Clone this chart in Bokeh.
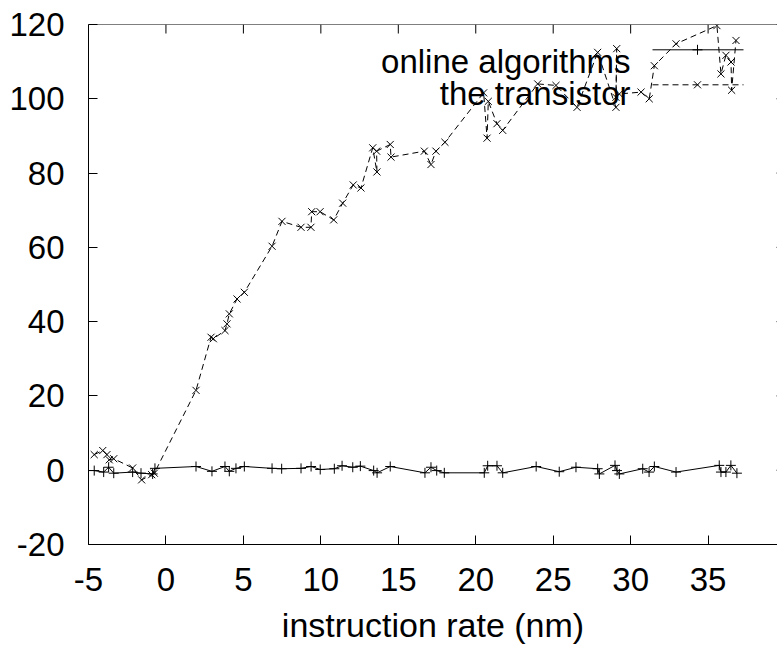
from bokeh.plotting import figure
from bokeh.models import Range1d, SingleIntervalTicker, Label, Span, PrintfTickFormatter
from bokeh.embed import file_html
from bokeh.resources import INLINE

# ---------------- data ----------------
online_x = [-4.63, -4.02, -3.7, -3.37, -2.15, -1.61, -0.86, -0.71, 1.94, 2.97,
            3.81, 4.09, 4.52, 5.06, 6.85, 7.47, 8.72, 9.37, 9.96, 10.87,
            11.37, 12.06, 12.55, 13.41, 13.63, 14.48, 16.72, 17.11, 17.48, 17.97,
            20.55, 20.77, 21.37, 21.74, 23.9, 25.39, 26.47, 27.87, 27.98, 28.99,
            29.12, 29.27, 30.78, 31.19, 31.53, 32.93, 35.72, 35.83, 36.15, 36.47,
            36.86]
online_y = [-0.1, -0.5, 0.8, -0.8, -0.5, -0.8, -1.0, 0.5, 1.0, -0.3,
            1.0, -0.3, 0.5, 1.0, 0.5, 0.4, 0.5, 1.0, 0.2, 0.4,
            1.2, 0.8, 1.1, -0.1, -0.7, 1.0, -0.7, 0.8, -0.1, -0.7,
            -0.7, 1.2, 1.2, -0.7, 1.0, -0.4, 0.8, 0.4, -1.0, 1.3,
            -0.1, -1.0, 0.4, -0.5, 1.0, -0.5, 1.3, -0.5, -0.5, 1.3,
            -0.8]

trans_x = [-4.63, -4.08, -3.81, -3.66, -3.37, -2.15, -1.57, -0.92, -0.75, 1.94,
           2.91, 3.06, 3.81, 3.94, 4.09, 4.59, 5.06, 6.85, 7.49, 8.72,
           9.36, 9.41, 9.95, 10.83, 11.41, 12.09, 12.59, 13.35, 13.62, 13.6,
           14.48, 14.53, 16.68, 17.11, 17.43, 18.01, 20.51, 20.73, 20.81, 21.37,
           21.74, 24.0, 25.18, 26.54, 27.87, 29.05, 29.1, 29.05, 29.27, 30.67,
           31.2, 31.53, 32.93, 35.57, 35.83, 36.15, 36.48, 36.52, 36.8]
trans_y = [4.2, 5.3, 4.2, 2.8, 3.1, 0.6, -2.6, -1.2, -0.8, 21.5,
           35.8, 35.4, 37.6, 39.4, 42.1, 46.1, 47.9, 60.3, 67.0, 65.4,
           65.4, 69.6, 69.6, 67.4, 71.9, 76.8, 76.0, 86.8, 80.3, 85.9,
           87.7, 84.3, 85.9, 82.3, 85.9, 88.3, 101.6, 89.4, 99.3, 93.3,
           91.5, 104.0, 103.6, 97.7, 112.5, 97.7, 113.5, 100.4, 101.3, 101.8,
           100.0, 108.9, 114.8, 119.7, 106.7, 111.7, 109.9, 102.3, 115.7]

series_names = ["online algorithms", "the transistor"]
x_label = "instruction rate (nm)"
x_ticks = [-5, 0, 5, 10, 15, 20, 25, 30, 35, 40]
y_ticks = [-20, 0, 20, 40, 60, 80, 100, 120]

# ---------------- layout ----------------
W, H = 777, 646
FL, FT, FB = 88, 24, 102
FW = W - FL
FH = H - FT - FB
X_START, X_AXIS_END = -5, 40          # gnuplot's full axis (right part is cut off)
PX_PER_X = 15.49
X_END = X_START + FW / PX_PER_X       # what fits in the window
Y_START, Y_END = -20, 120
PX_PER_Y = FH / (Y_END - Y_START)
TICK = 9

FONT = "Liberation Sans"
FS = "33px"


def sx(px):
    return X_START + (px - FL) / PX_PER_X


def sy(py):
    return Y_END - (py - FT) / PX_PER_Y


p = figure(width=W, height=H,
           x_range=Range1d(X_START, X_END), y_range=Range1d(Y_START, Y_END),
           output_backend="svg", toolbar_location=None,
           min_border_left=FL, min_border_right=0,
           min_border_top=FT, min_border_bottom=FB)
p.outline_line_color = None
p.grid.visible = False
p.background_fill_color = "white"
p.border_fill_color = "white"

xa = p.xaxis[0]
xa.ticker = SingleIntervalTicker(interval=5)
ya = p.yaxis[0]
ya.ticker = SingleIntervalTicker(interval=20)
for ax in (xa, ya):
    ax.formatter = PrintfTickFormatter(format="%d")
    ax.major_tick_in = TICK
    ax.major_tick_out = 0
    ax.minor_tick_line_color = None
    ax.axis_line_color = "black"
    ax.major_tick_line_color = "black"
    ax.major_label_text_font = FONT
    ax.major_label_text_font_size = FS
    ax.major_label_text_color = "black"
xa.major_label_standoff = 19
ya.major_label_standoff = 20
xa.axis_label = x_label
xa.axis_label_text_font = FONT
xa.axis_label_text_font_size = "34px"
xa.axis_label_text_font_style = "normal"
xa.axis_label_text_color = "black"
xa.axis_label_standoff = 12

# top border with mirrored ticks, and mirrored ticks of the (cut off) right border
p.add_layout(Span(location=Y_END, dimension="width", line_color="black", line_width=1))
p.segment(x0=x_ticks, y0=[Y_END] * len(x_ticks), x1=x_ticks,
          y1=[Y_END - TICK / PX_PER_Y] * len(x_ticks), line_color="black", line_width=1)
p.segment(x0=[X_AXIS_END] * len(y_ticks), y0=y_ticks,
          x1=[X_AXIS_END - TICK / PX_PER_X] * len(y_ticks), y1=y_ticks,
          line_color="black", line_width=1)

# ---------------- series ----------------
p.line(online_x, online_y, line_color="black", line_width=1)
p.scatter(online_x, online_y, marker="cross", size=10, line_color="black", line_width=1)

p.line(trans_x, trans_y, line_color="black", line_width=1, line_dash="6 4")
p.scatter(trans_x, trans_y, marker="x", size=10, line_color="black", line_width=1)

# ---------------- legend (gnuplot style: text then key) ----------------
p.add_layout(Label(x=sx(630), y=sy(60.7), text=series_names[0], text_align="right",
                   text_baseline="alphabetic", text_font=FONT, text_font_size=FS,
                   text_color="black"))
p.add_layout(Label(x=sx(630), y=sy(93.3), text=series_names[1], text_align="right",
                   text_baseline="alphabetic", text_font=FONT, text_font_size=FS,
                   text_color="black"))
p.line([sx(652), sx(743)], [sy(49.3), sy(49.3)], line_color="black", line_width=1)
p.scatter([sx(697)], [sy(49.3)], marker="cross", size=10, line_color="black")
p.line([sx(652), sx(743)], [sy(84.3), sy(84.3)], line_color="black", line_width=1,
       line_dash="6 4")
p.scatter([sx(697)], [sy(84.3)], marker="x", size=10, line_color="black")

# partially visible tick label "40" at the right edge
p.add_layout(Label(x=X_AXIS_END, y=sy(591), text=str(X_AXIS_END), text_align="center",
                   text_baseline="alphabetic", text_font=FONT, text_font_size=FS,
                   text_color="black", level="overlay"))

open("out.html", "w").write(file_html(p, INLINE))
